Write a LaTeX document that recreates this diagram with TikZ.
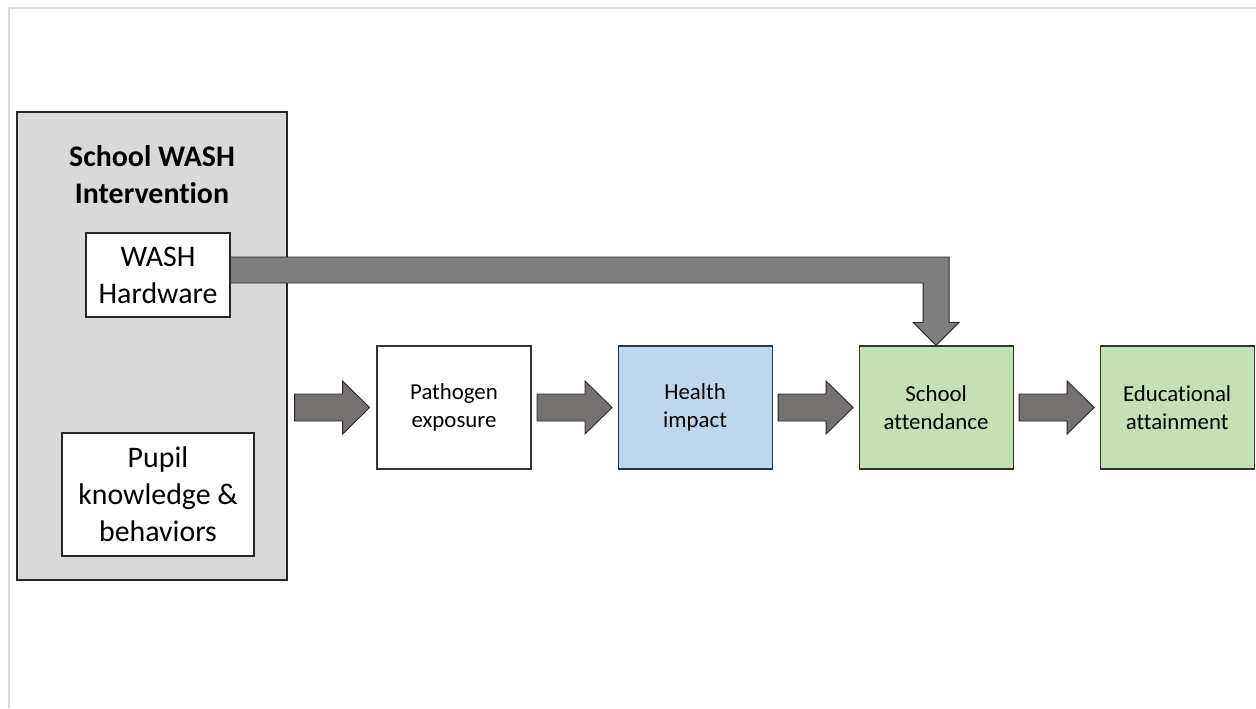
\documentclass[tikz,border=0pt]{standalone}
\usepackage{fontspec}
\setmainfont{Carlito}[Ligatures={NoCommon}]
\usetikzlibrary{positioning,calc}

\definecolor{framegray}{HTML}{D9D9D9}
\definecolor{boxgray}{HTML}{D9D9D9}
\definecolor{healthblue}{HTML}{BDD7EE}
\definecolor{outcomegreen}{HTML}{C5E0B4}
\definecolor{arrowgray}{HTML}{767171}
\definecolor{bentgray}{HTML}{7F7F7F}

% fat block arrow centred between two points
\newcommand{\fatarrow}[2]{%
  \draw[fatarr] let \p1=($(#1)!0.5!(#2)$) in
    (\x1-0.75cm,\y1+0.27cm) -- (\x1+0.21cm,\y1+0.27cm) -- (\x1+0.21cm,\y1+0.53cm)
    -- (\x1+0.75cm,\y1) -- (\x1+0.21cm,\y1-0.53cm) -- (\x1+0.21cm,\y1-0.27cm)
    -- (\x1-0.75cm,\y1-0.27cm) -- cycle;}

\begin{document}
\begin{tikzpicture}[node distance=1.72cm]

% Styles
\tikzset{
  stepbox/.style={
    draw=black!80,
    line width=0.6pt,
    rectangle,
    minimum width=3.08cm,
    minimum height=2.46cm,
    align=center,
    font=\fontsize{13}{16}\selectfont
  },
  inbox/.style={
    draw=black!85,
    fill=white,
    line width=0.6pt,
    rectangle,
    align=center,
    font=\fontsize{17}{21}\selectfont
  },
  fatarr/.style={
    draw=black!85,
    line width=0.5pt,
    fill=arrowgray,
    line join=miter
  },
  bentarr/.style={
    fatarr,
    fill=bentgray
  }
}

\useasboundingbox (0,0) rectangle (25.12,-14.16);

% Page frame
\draw[framegray, line width=1.1pt] (0.18,-14.16) -- (0.18,-0.16) -- (25.12,-0.16);

% Intervention block
\node[draw=black!85, fill=boxgray, line width=0.8pt, minimum width=5.4cm,
      minimum height=9.36cm] (intervention) at (3.04,-6.92) {};
\node[font=\fontsize{17}{21}\selectfont\bfseries, align=center] (title)
      at (3.04,-3.5) {School WASH\\Intervention};
\node[inbox, minimum width=2.88cm, minimum height=1.68cm] (hardware)
      at (3.16,-5.5) {WASH\\Hardware};
\node[inbox, minimum width=3.84cm, minimum height=2.46cm] (pupil)
      at (3.16,-9.89) {Pupil\\knowledge \&\\behaviors};

% Pathway
\node[stepbox] (pathogen) at (9.08,-8.15) {Pathogen\\exposure};
\node[stepbox, fill=healthblue, right=of pathogen] (health) {Health\\impact};
\node[stepbox, fill=outcomegreen, right=of health] (school) {School\\attendance};
\node[stepbox, fill=outcomegreen, right=of school] (attain) {Educational\\attainment};

\coordinate (ivrow) at (intervention.east |- pathogen.west);

% Block arrows
\fatarrow{ivrow}{pathogen.west}
\fatarrow{pathogen.east}{health.west}
\fatarrow{health.east}{school.west}
\fatarrow{school.east}{attain.west}

% Hardware straight to attendance
\draw[bentarr] let \p1=($(hardware.east)+(0,0.1)$), \p2=(school.north) in
  (\x1,\y1+0.26cm) -- (\x2+0.26cm,\y1+0.26cm) -- (\x2+0.26cm,\y2+0.46cm)
  -- (\x2+0.46cm,\y2+0.46cm) -- (\x2,\y2) -- (\x2-0.46cm,\y2+0.46cm)
  -- (\x2-0.26cm,\y2+0.46cm) -- (\x2-0.26cm,\y1-0.26cm) -- (\x1,\y1-0.26cm) -- cycle;

\end{tikzpicture}
\end{document}
